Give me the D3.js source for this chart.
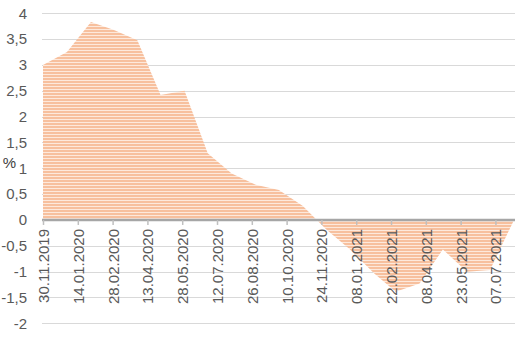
<!DOCTYPE html>
<html><head><meta charset="utf-8">
<script src="https://cdn.jsdelivr.net/npm/d3@7"></script>
<style>body{margin:0;background:#fff}svg{display:block}</style>
</head><body>
<svg id="c" width="520" height="343"></svg>
<script>
const dates = ["30.11.2019","31.12.2019","31.01.2020","29.02.2020","31.03.2020","30.04.2020","31.05.2020","30.06.2020","31.07.2020","31.08.2020","30.09.2020","31.10.2020","30.11.2020","31.12.2020","31.01.2021","28.02.2021","31.03.2021","30.04.2021","31.05.2021","30.06.2021","31.07.2021"];
const values = [3.0,3.25,3.83,3.68,3.48,2.42,2.5,1.29,0.9,0.68,0.58,0.27,-0.18,-0.57,-1.03,-1.39,-1.23,-0.57,-1.0,-0.97,0.0];
const xTickLabels = ["30.11.2019","14.01.2020","28.02.2020","13.04.2020","28.05.2020","12.07.2020","26.08.2020","10.10.2020","24.11.2020","08.01.2021","22.02.2021","08.04.2021","23.05.2021","07.07.2021"];
const yTicks = [-2,-1.5,-1,-0.5,0,0.5,1,1.5,2,2.5,3,3.5,4];
const yLabel = "%";

const parse = d3.utcParse("%d.%m.%Y");
const fmt = d3.utcFormat("%d.%m.%Y");
const data = dates.map((d,i)=>({date:parse(d), v:values[i]}));

const svg = d3.select("#c");
const mLeft = 43, mRight = 514, mTop = 13.3, mBottom = 323.3;
const x = d3.scaleUtc().domain([parse(dates[0]), parse(dates[dates.length-1])]).range([mLeft, mRight]);
const y = d3.scaleLinear().domain([-2,4]).range([mBottom, mTop]);

const defs = svg.append("defs");
const pat = defs.append("pattern").attr("id","stripes").attr("patternUnits","userSpaceOnUse")
  .attr("width",8).attr("height",3);
pat.append("rect").attr("width",8).attr("height",3).attr("fill","#fde9dc");
pat.append("rect").attr("width",8).attr("height",2).attr("fill","#f7c09e");

// gridlines
svg.append("g").selectAll("line").data(yTicks.filter(t=>t!==0)).join("line")
  .attr("x1",mLeft-1).attr("x2",mRight+1).attr("y1",d=>Math.round(y(d))+0.5).attr("y2",d=>Math.round(y(d))+0.5)
  .attr("stroke","#d9d9d9").attr("stroke-width",1);

// area
const area = d3.area().x(d=>x(d.date)).y0(y(0)).y1(d=>y(d.v));
svg.append("path").datum(data).attr("d",area).attr("fill","url(#stripes)");

// y axis labels
const yAxis = d3.axisLeft(y).tickValues(yTicks).tickSize(0).tickPadding(0)
  .tickFormat(d=>String(d).replace(".",","));
const gy = svg.append("g").attr("transform","translate(27,0)").call(yAxis);
gy.select(".domain").remove();
gy.selectAll("text").attr("font-family","'Liberation Sans', Arial, sans-serif").attr("font-size",15).attr("fill","#595959");

svg.append("text").attr("x",9.5).attr("y",168).attr("text-anchor","middle")
  .attr("font-family","'Liberation Sans', Arial, sans-serif").attr("font-size",15).attr("fill","#404040").text(yLabel);

// x axis
const xAxis = d3.axisBottom(x).tickValues(xTickLabels.map(parse)).tickFormat(fmt).tickSize(5).tickPadding(0);
const gx = svg.append("g").attr("transform",`translate(0,${y(0)})`).call(xAxis);
gx.select(".domain").attr("d",`M${mLeft-1},0H${mRight+1}`).attr("stroke","#a6a6a6").attr("stroke-width",2.5);
gx.selectAll(".tick line").attr("stroke","#bfbfbf").attr("stroke-width",1.5);
gx.selectAll(".tick text")
  .attr("font-family","'Liberation Sans', Arial, sans-serif").attr("font-size",15).attr("fill","#595959")
  .attr("transform","rotate(-90)").attr("text-anchor","end")
  .attr("x",-9).attr("y",0).attr("dy","0.36em");
</script>
</body></html>
